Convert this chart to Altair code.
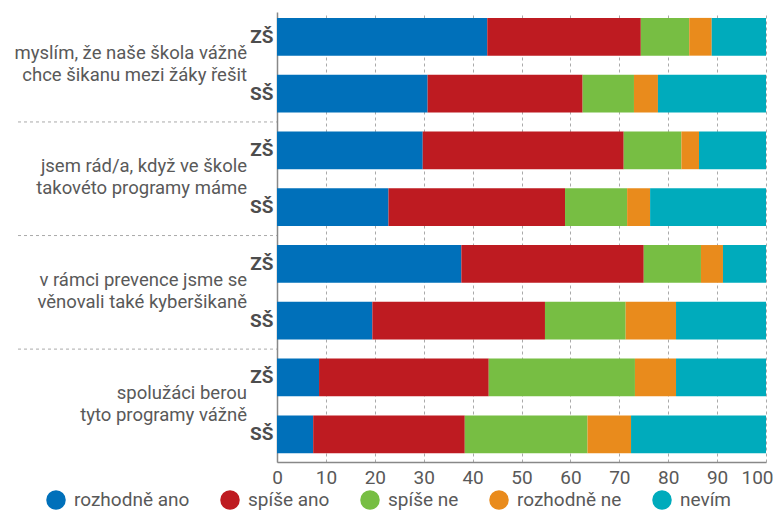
import altair as alt
import pandas as pd

questions = [
    "myslím, že naše škola vážně\nchce šikanu mezi žáky řešit",
    "jsem rád/a, když ve škole\ntakovéto programy máme",
    "v rámci prevence jsme se\nvěnovali také kyberšikaně",
    "spolužáci berou\ntyto programy vážně",
]
schools = ["ZŠ", "SŠ"]
categories = ["rozhodně ano", "spíše ano", "spíše ne", "rozhodně ne", "nevím"]
colors = ["#0070BA", "#BE1B21", "#77BE43", "#E98B1C", "#00ABBC"]

# rows: q1 ZŠ, q1 SŠ, q2 ZŠ, q2 SŠ, ...
rozhodne_ano = [43.0, 30.8, 29.8, 22.8, 37.7, 19.5, 8.6, 7.4]
spise_ano = [31.4, 31.7, 41.1, 36.1, 37.3, 35.3, 34.7, 31.0]
spise_ne = [9.9, 10.5, 11.8, 12.7, 11.7, 16.5, 29.9, 25.1]
rozhodne_ne = [4.6, 4.9, 3.6, 4.7, 4.5, 10.3, 8.4, 8.9]
nevim = [11.1, 22.1, 13.7, 23.7, 8.8, 18.4, 18.4, 27.6]
x_ticks = list(range(0, 101, 10))

series = [rozhodne_ano, spise_ano, spise_ne, rozhodne_ne, nevim]
rows = [f"{qi}|{s}" for qi in range(len(questions)) for s in schools]

recs = []
for ci, (cat, vals) in enumerate(zip(categories, series)):
    for ri, row in enumerate(rows):
        recs.append({"row": row, "category": cat, "order": ci, "value": vals[ri]})
df = pd.DataFrame(recs)

qdf = pd.DataFrame({
    "row": [f"{qi}|ZŠ" for qi in range(len(questions))],
    "text": questions,
})
sep = pd.DataFrame({"row": [f"{qi}|SŠ" for qi in range(len(questions) - 1)]})

FONT = "Roboto"
TXT = "#595959"

yscale = alt.Scale(domain=rows, paddingInner=0.335, paddingOuter=0.13, align=0.4)
yaxis = alt.Axis(title=None, ticks=False, domainColor="#888888", domainWidth=1.5,
                 labelExpr="split(datum.value, '|')[1]", labelFontWeight="bold",
                 labelFontSize=19, labelColor="#4d4d4d", labelFont=FONT,
                 labelPadding=4, grid=False)

bars = alt.Chart(df).mark_bar().encode(
    x=alt.X("value:Q", stack="zero",
            scale=alt.Scale(domain=[0, 100], nice=False),
            axis=alt.Axis(values=x_ticks, title=None, grid=True, gridDash=[3, 3],
                          gridColor="#aaaaaa", gridWidth=1, ticks=False,
                          domainColor="#888888", domainWidth=1.5,
                          labelFontSize=19, labelColor=TXT, labelFont=FONT,
                          labelPadding=6, labelFlush=False,
                          labelOffset={"condition": {"test": "datum.value == 100", "value": -9},
                                       "value": 0})),
    y=alt.Y("row:N", sort=rows, scale=yscale, axis=yaxis),
    color=alt.Color("category:N", sort=categories,
                    scale=alt.Scale(domain=categories, range=colors),
                    legend=alt.Legend(title=None, orient="none", direction="horizontal",
                                      legendX=-231, legendY=478, symbolType="circle",
                                      symbolSize=380, symbolStrokeWidth=0,
                                      labelFontSize=19, labelColor=TXT, labelFont=FONT,
                                      columnPadding=30, labelOffset=8, labelLimit=300)),
    order=alt.Order("order:Q"),
)

labels = alt.Chart(qdf).mark_text(
    align="right", baseline="middle", fontSize=18.5, font=FONT, color=TXT,
    lineBreak="\n", lineHeight=22, dy=16,
).encode(
    x=alt.value(-30),
    y=alt.Y("row:N", sort=rows, scale=yscale, axis=yaxis),
    text="text:N",
)

seps = alt.Chart(sep).mark_rule(
    strokeDash=[3, 3], color="#aaaaaa", strokeWidth=1, yOffset=28.4,
).encode(
    x=alt.value(-259), x2=alt.value(0),
    y=alt.Y("row:N", sort=rows, scale=yscale, axis=yaxis),
)

chart = alt.layer(bars, labels, seps).properties(
    width=489, height=450,
    autosize=alt.AutoSizeParams(type="none"),
    padding={"left": 269, "top": 4, "right": 8, "bottom": 48},
).configure_view(stroke=None)

chart.save("out.html", embed_options={"renderer": "svg", "actions": False})
